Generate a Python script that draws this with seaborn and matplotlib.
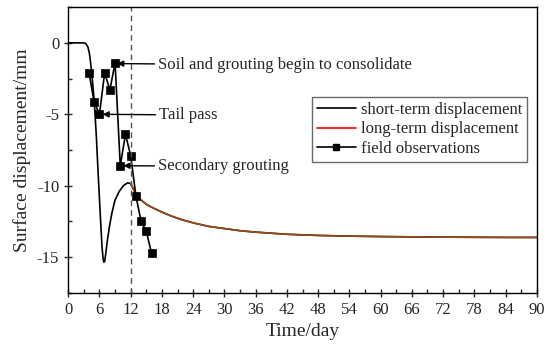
import numpy as np
import pandas as pd
import seaborn as sns
import matplotlib.pyplot as plt
from matplotlib.lines import Line2D

# short-term curve up to the dashed line (day 12)
short_days = [0, 1, 2, 3.0, 3.4, 3.8, 4.1, 4.5, 5.0, 5.4, 5.8, 6.2, 6.5, 6.7, 6.85, 7.0,
              7.2, 7.5, 7.9, 8.4, 9.0, 9.8, 10.6, 11.4, 12.0]
short_vals = [0, 0, 0, 0, -0.05, -0.3, -0.8, -2.0, -4.1, -6.5, -9.5, -12.3, -14.3, -15.1, -15.35, -15.3,
              -14.8, -13.9, -12.9, -11.9, -11.0, -10.4, -10.0, -9.8, -9.85]

# long-term curve after day 12
long_days = [12, 13, 14, 15, 16, 18, 20, 22, 24, 27, 30, 33, 36, 42, 48, 54, 60, 66, 72, 78, 84, 90]
long_vals = [-9.85, -10.6, -11.0, -11.3, -11.5, -11.85, -12.15, -12.4, -12.6, -12.85, -13.0,
             -13.15, -13.25, -13.4, -13.48, -13.53, -13.56, -13.58, -13.6, -13.61, -13.62, -13.62]

# field observations
obs_days = [4, 5, 6, 7, 8, 9, 10, 11, 12, 13, 14, 15, 16]
obs_vals = [-2.1, -4.15, -5.0, -2.1, -3.3, -1.4, -8.6, -6.4, -7.9, -10.7, -12.5, -13.2, -14.7]

sns.set_style("white")
plt.rcParams['font.family'] = ['Liberation Serif', 'DejaVu Serif']
plt.rcParams['axes.unicode_minus'] = False

fig, ax = plt.subplots(figsize=(5.5, 3.58), dpi=100)
fig.subplots_adjust(left=0.124, right=0.976, top=0.980, bottom=0.182)

short_df = pd.DataFrame({'day': short_days + long_days[1:], 'disp': short_vals + long_vals[1:]})
long_df = pd.DataFrame({'day': long_days, 'disp': long_vals})
obs_df = pd.DataFrame({'day': obs_days, 'disp': obs_vals})

sns.lineplot(data=short_df, x='day', y='disp', color='black', lw=1.2, ax=ax, sort=False)
sns.lineplot(data=long_df, x='day', y='disp', color='#9b4a1a', lw=1.2, ax=ax, sort=False)
sns.lineplot(data=obs_df, x='day', y='disp', color='black', lw=1.2, marker='s',
             markersize=5.5, markeredgewidth=0.5, markeredgecolor='black', ax=ax, sort=False)

ax.axvline(12, color='#555555', ls='--', lw=1.0, dashes=(4, 3))

arrow = dict(arrowstyle='-|>', color='black', lw=1.0, mutation_scale=9, shrinkA=0, shrinkB=0)
ax.annotate('Soil and grouting begin to consolidate', xy=(9.4, -1.45), xytext=(17.2, -1.55),
            fontsize=12, va='center', arrowprops=arrow)
ax.annotate('Tail pass', xy=(6.6, -5.0), xytext=(17.4, -5.05),
            fontsize=12, va='center', arrowprops=arrow)
ax.annotate('Secondary grouting', xy=(10.6, -8.6), xytext=(17.2, -8.65),
            fontsize=12, va='center', arrowprops=arrow)

ax.set_xlim(0, 90)
ax.set_ylim(-17.5, 2.5)
ax.set_xticks(np.arange(0, 91, 6))
ax.set_xticks(np.arange(0, 91, 3), minor=True)
ax.set_yticks([0, -5, -10, -15])
ax.set_yticks(np.arange(-17.5, 2.6, 2.5), minor=True)
ax.tick_params(which='major', direction='inout', length=6, width=1, labelsize=12,
               bottom=True, left=True, top=False, right=False)
ax.tick_params(which='minor', direction='in', length=3, width=1,
               bottom=True, left=True, top=False, right=False)
for s in ax.spines.values():
    s.set_color('black')
    s.set_linewidth(1.0)

ax.set_xlabel('Time/day', fontsize=14)
ax.set_ylabel('Surface displacement/mm', fontsize=14)

handles = [Line2D([], [], color='black', lw=1.2),
           Line2D([], [], color='red', lw=1.2),
           Line2D([], [], color='black', lw=1.2, marker='s', markersize=4.5)]
labels = ['short-term displacement', 'long-term displacement', 'field observations']
leg = ax.legend(handles, labels, loc='upper right', bbox_to_anchor=(0.979, 0.685),
                fontsize=12, frameon=True, fancybox=False, edgecolor='#444444',
                handlelength=2.3, handletextpad=0.3, borderpad=0.3, labelspacing=0.2,
                borderaxespad=0)
leg.get_frame().set_linewidth(1.0)

fig.savefig('out.png', dpi=100)
